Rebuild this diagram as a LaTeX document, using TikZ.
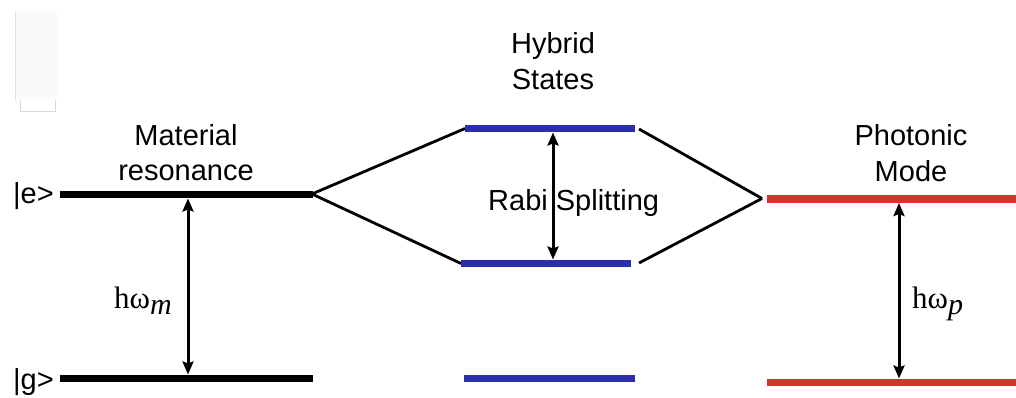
\documentclass[tikz,border=0pt]{standalone}
\usepackage{fontspec}
\setmainfont{Liberation Sans}
\newfontfamily\serifhw{Liberation Serif}
\usetikzlibrary{arrows.meta}
\definecolor{lvblue}{RGB}{43,47,173}
\definecolor{lvred}{RGB}{224,45,45}
\tikzset{
  level/.style={line width=7.5pt},
  link/.style={line width=2.8pt},
  gap/.style={line width=3pt,{Stealth[length=13pt,width=11pt,inset=2pt]}-{Stealth[length=13pt,width=11pt,inset=2pt]}},
  lbl/.style={anchor=base,inner sep=0pt,font=\fontsize{29}{35}\selectfont},
  mlbl/.style={anchor=base west,inner sep=0pt,font=\fontsize{31}{35}\selectfont\serifhw}
}
\newcommand{\subix}[1]{\raisebox{-6pt}{\fontsize{30}{30}\selectfont\itshape #1}}
\begin{document}
\begin{tikzpicture}[x=1pt,y=-1pt]
\useasboundingbox (0,0) rectangle (1016,398);
% faint artifact box
\fill[black!2] (15,11) rectangle (57,100);
\draw[black!12,line width=1pt] (15.5,11) -- (15.5,100);
\draw[black!15,line width=1pt] (20.5,100) -- (20.5,111.5) -- (55.5,111.5) -- (55.5,100);
% level end points
\coordinate (me1) at (60,194.5);  \coordinate (me2) at (313,194.5);
\coordinate (mg1) at (60,378.5);  \coordinate (mg2) at (313,378.5);
\coordinate (hu1) at (465,128.5); \coordinate (hu2) at (635,128.5);
\coordinate (hl1) at (461,263.5); \coordinate (hl2) at (631,263.5);
\coordinate (hg1) at (464,378.5); \coordinate (hg2) at (635,378.5);
\coordinate (pe1) at (767,199);   \coordinate (pe2) at (1016,199);
\coordinate (pg1) at (767,382.5); \coordinate (pg2) at (1016,382.5);
% levels
\draw[level] (me1) -- (me2);
\draw[level] (mg1) -- (mg2);
\draw[level,lvblue] (hu1) -- (hu2);
\draw[level,lvblue] (hl1) -- (hl2);
\draw[level,lvblue] (hg1) -- (hg2);
\draw[level,lvred] (pe1) -- (pe2);
\draw[level,lvred] (pg1) -- (pg2);
% connectors
\coordinate (lj) at (312,194);
\coordinate (rj) at (762,198.5);
\coordinate (ru) at (639,129);
\coordinate (rl) at (639,263);
\draw[link] (lj) -- (hu1);
\draw[link] (lj) -- (hl1);
\draw[link] (ru) -- (rj);
\draw[link] (rl) -- (rj);
% energy gaps
\coordinate (a1t) at (188,198.5); \coordinate (a1b) at (188,374.5);
\coordinate (a2t) at (553,132.5); \coordinate (a2b) at (553,259.5);
\coordinate (a3t) at (899,203);   \coordinate (a3b) at (899,378.5);
\draw[gap] (a1t) -- (a1b);
\draw[gap] (a2t) -- (a2b);
\draw[gap] (a3t) -- (a3b);
% labels
\node[lbl] (mat1) at (186,146) {Material};
\node[lbl] (mat2) at (186,181) {resonance};
\node[lbl] (hyb1) at (553,54) {Hybrid};
\node[lbl] (hyb2) at (553,90) {States};
\node[lbl] (pho1) at (911,146) {Photonic};
\node[lbl] (pho2) at (911,182) {Mode};
\node[lbl,anchor=base west] (ket_e) at (13,203) {|e>};
\node[lbl,anchor=base west] (ket_g) at (13,389) {|g>};
\node[lbl,anchor=base west] (rabi) at (488,210) {Rabi Splitting};
\node[mlbl] (hwm) at (114,308) {hω\subix{m}};
\node[mlbl] (hwp) at (912,308) {hω\subix{p}};
\end{tikzpicture}
\end{document}
